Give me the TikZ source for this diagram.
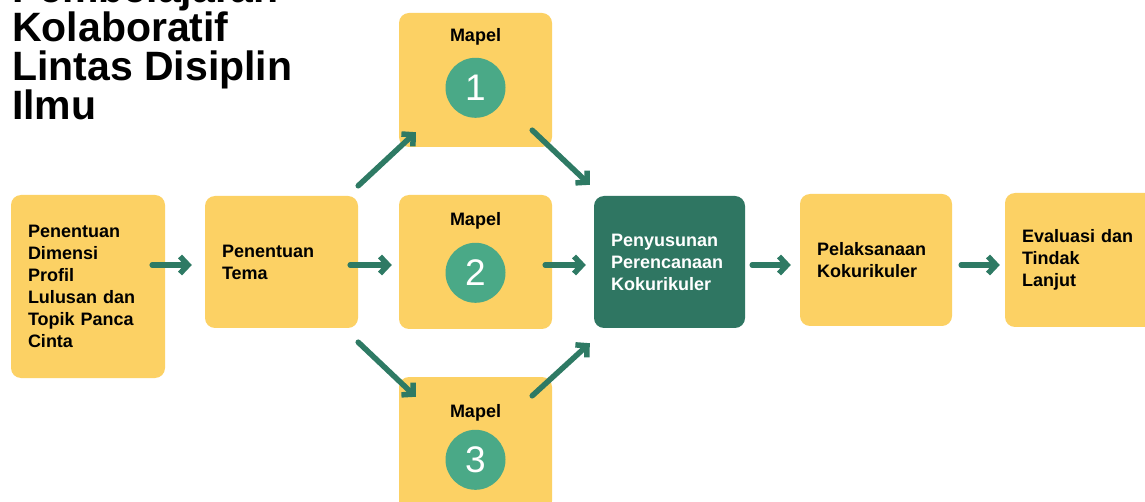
\documentclass[tikz,border=0pt]{standalone}
\usepackage{fontspec}
\setmainfont{Liberation Sans}
\usetikzlibrary{arrows.meta,calc}

\definecolor{boxyellow}{HTML}{FCD164}
\definecolor{darkgreen}{HTML}{2F7662}
\definecolor{circgreen}{HTML}{4AA987}
\definecolor{arrowgreen}{HTML}{2E7A64}

\begin{document}
\begin{tikzpicture}[x=1pt,y=-1pt,
  stepbox/.style={rectangle, rounded corners=10pt, fill=boxyellow,
    minimum height=133pt, text width=119pt, align=left,
    inner xsep=17pt, inner ysep=0pt,
    font=\fontsize{18}{22}\selectfont\bfseries},
  darkbox/.style={stepbox, fill=darkgreen, text=white, text width=117pt},
  mapelbox/.style={rectangle, rounded corners=10pt, fill=boxyellow,
    minimum width=153pt, minimum height=134pt, inner sep=0pt},
  mapellabel/.style={font=\fontsize{18}{22}\selectfont\bfseries, inner sep=0pt},
  numcircle/.style={circle, fill=circgreen, minimum size=60pt, inner sep=0pt,
    text=white, font=\fontsize{37}{40}\selectfont},
  arr/.style={draw=arrowgreen, line width=5.5pt, line cap=round,
    -{Straight Barb[length=8pt, width=17pt]}},
  titletext/.style={font=\fontsize{41}{39}\selectfont\bfseries, align=left,
    inner sep=0pt}
]
\useasboundingbox (0,0) rectangle (1145,502);
\fill[white] (0,0) rectangle (1145,502);
\clip (0,0) rectangle (1145,502);

% title
\node[titletext, anchor=base west] (title) at (12,120)
  {Pembelajaran\\Kolaboratif\\Lintas Disiplin\\Ilmu};

% boxes
\node[stepbox, minimum height=183pt, text width=120pt] (b1) at (88,286.5)
  {Penentuan\\Dimensi\\Profil\\Lulusan dan\\Topik Panca\\Cinta};
\node[stepbox, minimum height=132pt] (b2) at (281.5,262) {Penentuan\\Tema};

\node[mapelbox] (m1) at (475.5,80) {};
\node[mapelbox] (m2) at (475.5,262) {};
\node[mapelbox] (m3) at (475.5,444) {};

\node[mapellabel] (l1) at ($(m1.north)+(0,24)$) {Mapel};
\node[numcircle] (c1) at ($(m1.north)+(0,75)$) {1};
\node[mapellabel] (l2) at ($(m2.north)+(0,26)$) {Mapel};
\node[numcircle] (c2) at ($(m2.north)+(0,78)$) {2};
\node[mapellabel] (l3) at ($(m3.north)+(0,36)$) {Mapel};
\node[numcircle] (c3) at ($(m3.north)+(0,83)$) {3};

\node[darkbox, minimum height=132pt] (dk) at (669.5,262)
  {Penyusunan\\Perencanaan\\Kokurikuler};
\node[stepbox, minimum height=132pt, text width=118pt] (pk) at (876,260)
  {Pelaksanaan\\Kokurikuler};
\node[stepbox, minimum height=134pt] (ev) at (1081.5,260)
  {Evaluasi dan\\Tindak\\Lanjut};

% connectors
\draw[arr] ($(b1.east)+(-13,-21.5)$) -- ($(b2.west)+(-13,3)$);
\draw[arr] ($(b2.east)+(-8,3)$) -- ($(m2.west)+(-7,3)$);
\draw[arr] ($(b2.north east)+(0,-10)$) -- ($(m1.south west)+(17,-15)$);
\draw[arr] ($(b2.south east)+(0,14)$) -- ($(m3.north west)+(17,20)$);
\draw[arr] ($(m1.south east)+(-20,-17)$) -- ($(dk.north west)+(-4,-11)$);
\draw[arr] ($(m3.north east)+(-20,19)$) -- ($(dk.south west)+(-4,15)$);
\draw[arr] ($(m2.east)+(-7,3)$) -- ($(dk.west)+(-8,3)$);
\draw[arr] ($(dk.east)+(7,3)$) -- ($(pk.west)+(-9,5)$);
\draw[arr] ($(pk.east)+(9,5)$) -- ($(ev.west)+(-5,5)$);
\end{tikzpicture}
\end{document}
